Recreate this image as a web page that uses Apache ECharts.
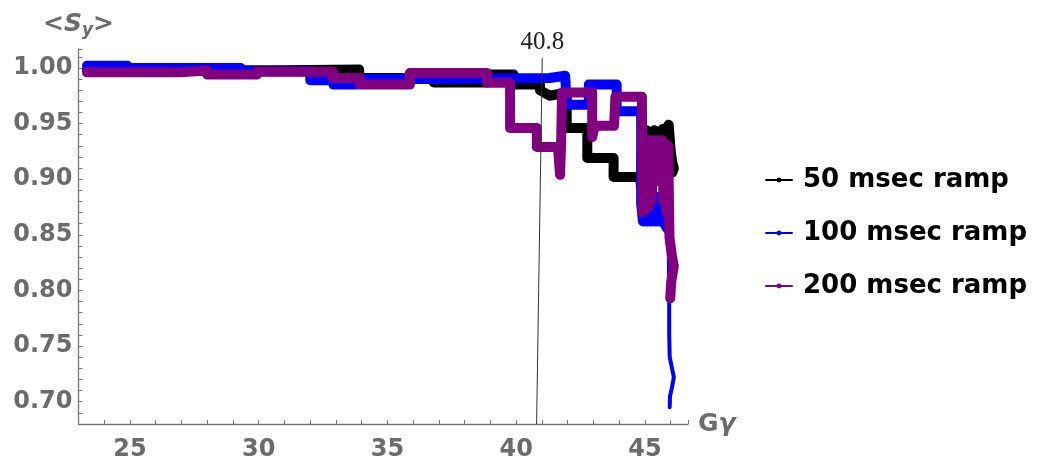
<!DOCTYPE html>
<html>
<head>
<meta charset="utf-8">
<script src="https://cdn.jsdelivr.net/npm/echarts@6/dist/echarts.min.js"></script>
<style>
html,body{margin:0;padding:0;background:#fff;}
#main{width:1042px;height:462px;}
</style>
</head>
<body>
<div id="main"></div>
<script>
// axis ranges and tick labels
var xMin = 23, xMax = 46.67;
var yMin = 0.68, yMax = 1.017;
var xLabels = [25, 30, 35, 40, 45];
var yLabels = [0.70, 0.75, 0.80, 0.85, 0.90, 0.95, 1.00];

// 50 msec ramp
var gBlack = [23.33, 31.0, 31.0, 33.9, 33.9, 36.8, 36.8, 38.9, 38.9, 39.9, 39.9, 40.92, 40.92, 41.3, 41.96, 41.96,
	42.76, 42.76, 43.78, 43.78, 44.8, 44.85, 44.9, 44.97, 45.05, 45.12, 45.2, 45.28, 45.36, 45.44, 45.52, 45.6,
	45.68, 45.76, 45.84, 45.92, 46.0, 46.06, 46.12, 46.06, 46.0];
var sBlack = [0.998, 0.998, 0.9985, 0.9985, 0.991, 0.991, 0.987, 0.987, 0.994, 0.994, 0.985, 0.985, 0.980, 0.975, 0.978, 0.946,
	0.946, 0.919, 0.919, 0.902, 0.902, 0.893, 0.940, 0.930, 0.944, 0.930, 0.942, 0.930, 0.944, 0.930, 0.942, 0.930,
	0.945, 0.932, 0.946, 0.949, 0.925, 0.915, 0.910, 0.906, 0.912];

// 100 msec ramp
var gBlue = [23.33, 24.9, 24.9, 29.3, 29.3, 32.0, 32.0, 32.9, 32.9, 33.8, 33.8, 37.0, 37.0, 41.3, 41.9, 41.96, 41.96,
	42.82, 42.82, 43.9, 43.9, 44.85, 44.85, 44.92, 45.0, 45.08, 45.16, 45.24, 45.32, 45.4, 45.48, 45.56, 45.64,
	45.72, 45.85, 45.92];
var sBlue = [1.002, 1.002, 1.0, 1.0, 0.997, 0.997, 0.989, 0.989, 0.985, 0.985, 0.990, 0.990, 0.991, 0.991, 0.993, 0.993, 0.967,
	0.967, 0.985, 0.985, 0.961, 0.961, 0.878, 0.862, 0.884, 0.862, 0.884, 0.862, 0.884, 0.862, 0.884, 0.862, 0.880,
	0.862, 0.856, 0.856];
var gBlueTail = [45.92, 45.93, 45.94, 45.94, 45.96, 46.05, 46.12, 46.04, 45.97, 45.96];
var sBlueTail = [0.856, 0.820, 0.790, 0.760, 0.740, 0.730, 0.722, 0.712, 0.705, 0.695];

// 200 msec ramp
var gPurple = [23.33, 26.94, 26.94, 28.0, 28.0, 29.93, 29.93, 32.88, 32.88, 33.93, 33.93, 35.87, 35.87, 38.86, 38.86,
	39.76, 39.76, 40.8, 40.8, 41.62, 41.7, 41.74, 41.78, 42.95, 42.95, 43.05, 43.8, 43.85, 44.88, 44.9, 44.96, 45.02,
	45.08, 45.14, 45.2, 45.26, 45.34, 45.42, 45.5, 45.58, 45.66, 45.72, 45.78, 45.84, 45.9, 45.95, 46.05, 46.12,
	46.02, 45.98];
var sPurple = [0.996, 0.996, 0.9976, 0.9976, 0.994, 0.994, 0.9965, 0.9965, 0.991, 0.991, 0.985, 0.985, 0.9955, 0.9955, 0.9866,
	0.9866, 0.946, 0.946, 0.929, 0.929, 0.904, 0.930, 0.978, 0.978, 0.938, 0.948, 0.948, 0.974, 0.974, 0.870, 0.935, 0.872,
	0.935, 0.875, 0.935, 0.880, 0.935, 0.898, 0.935, 0.898, 0.935, 0.880, 0.932, 0.870, 0.930, 0.848, 0.830, 0.822,
	0.808, 0.793];

var markX = [40.79, 41.01];
var markY = [yMin, 1.009];

var names = ['50 msec ramp', '100 msec ramp', '200 msec ramp'];
var colors = ['#000000', '#0000ff', '#800080'];
var gray = '#6b6b6b';
var sansFont = 'DejaVu Sans';

function zip(a, b) {
	var out = [];
	for (var i = 0; i < a.length; i++) {
		out.push([a[i], b[i]]);
	}
	return out;
}

function makeSeries(name, color, g, s, width) {
	return {
		name: name,
		type: 'line',
		data: zip(g, s),
		showSymbol: false,
		symbol: 'circle',
		symbolSize: 6,
		itemStyle: {color: color},
		lineStyle: {color: color, width: width, cap: 'round', join: 'round'},
		silent: true
	};
}

var myChart = echarts.init(document.getElementById('main'));

var series = [
	makeSeries(names[0], colors[0], gBlack, sBlack, 10),
	makeSeries(names[1], colors[1], gBlue, sBlue, 10),
	makeSeries(names[1], colors[1], gBlueTail, sBlueTail, 4),
	makeSeries(names[2], colors[2], gPurple, sPurple, 10)
];
// 40.8 marker
series[3].markLine = {
	silent: true,
	symbol: 'none',
	animation: false,
	lineStyle: {color: '#333', width: 1, type: 'solid'},
	label: {
		show: true,
		position: 'end',
		formatter: '40.8',
		fontFamily: 'Liberation Serif',
		fontSize: 25,
		color: '#222',
		distance: 3
	},
	data: [[{coord: [markX[0], markY[0]]}, {coord: [markX[1], markY[1]]}]]
};

var tickLabel = {fontFamily: sansFont, fontWeight: 'bold', fontSize: 24, color: gray};

var option = {
	animation: false,
	grid: {left: 78.5, right: 354, top: 49, bottom: 35.6, containLabel: false},
	legend: {
		data: names,
		orient: 'vertical',
		left: 760,
		top: 160,
		itemWidth: 26,
		itemHeight: 6,
		itemGap: 23,
		lineStyle: {width: 2},
		textStyle: {fontFamily: sansFont, fontWeight: 'bold', fontSize: 26, color: '#000', lineHeight: 30, padding: [0, 0, 0, 6]}
	},
	xAxis: {
		type: 'value', min: xMin, max: xMax, interval: 1,
		axisLine: {onZero: false, lineStyle: {color: '#777', width: 1.3}},
		axisTick: {show: true, inside: true, length: 4, lineStyle: {color: '#777'}},
		axisLabel: Object.assign({customValues: xLabels, margin: 14}, tickLabel),
		splitLine: {show: false},
		name: 'G{g|γ}',
		nameLocation: 'end',
		nameGap: 10,
		nameTextStyle: {
			fontFamily: sansFont, fontWeight: 'bold', fontSize: 25, color: gray,
			rich: {g: {fontFamily: sansFont, fontWeight: 'bold', fontStyle: 'italic', fontSize: 25, color: gray}}
		}
	},
	yAxis: {
		type: 'value', min: yMin, max: yMax, interval: 0.01,
		axisLine: {show: true, onZero: false, lineStyle: {color: '#777', width: 1.3}},
		axisTick: {show: true, inside: true, length: 4, lineStyle: {color: '#777'}},
		axisLabel: Object.assign({
			customValues: yLabels, margin: 6,
			formatter: function (v) { return v.toFixed(2); }
		}, tickLabel),
		splitLine: {show: false},
		name: '<{s|S}{y|y}>',
		nameLocation: 'end',
		nameGap: 10,
		nameTextStyle: {
			fontFamily: sansFont, fontWeight: 'bold', fontSize: 25, color: gray, align: 'center',
			rich: {
				s: {fontFamily: sansFont, fontWeight: 'bold', fontStyle: 'italic', fontSize: 25, color: gray},
				y: {fontFamily: sansFont, fontWeight: 'bold', fontStyle: 'italic', fontSize: 17, color: gray, padding: [12, 0, 0, 0]}
			}
		}
	},
	series: series
};

myChart.setOption(option, true);
</script>
</body>
</html>
